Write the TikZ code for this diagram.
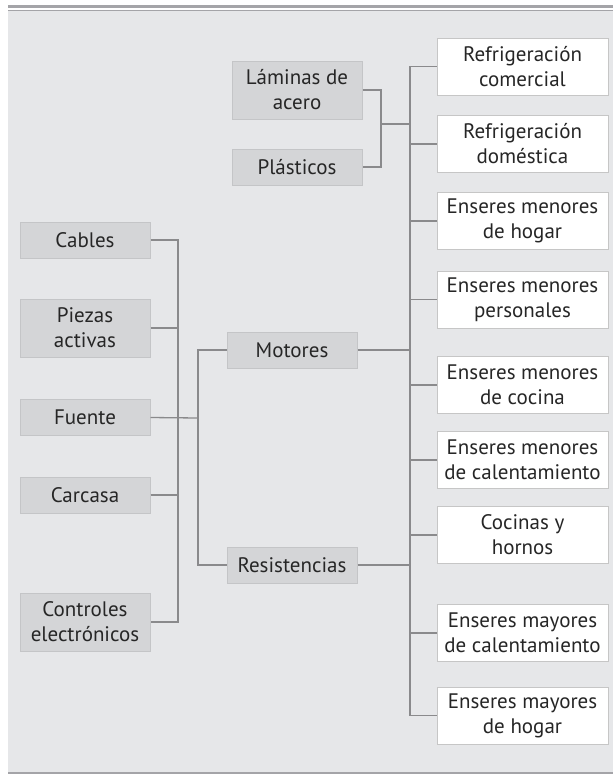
\documentclass[tikz,border=0pt]{standalone}
\usepackage{fontspec}
\setmainfont{PT Sans}
\definecolor{panel}{HTML}{E6E7E9}
\definecolor{boxgray}{HTML}{D4D5D7}
\definecolor{boxedge}{HTML}{C4C5C7}
\definecolor{wedge}{HTML}{C6C6C6}
\definecolor{linkgray}{HTML}{8A8A8C}
\definecolor{inkgray}{HTML}{262626}
\definecolor{rulegray}{HTML}{A4A4A8}
\tikzset{every picture/.style={line width=0.75pt}}
\tikzset{
  gbox/.style={draw=boxedge, fill=boxgray, line width=1pt, minimum width=130pt, minimum height=36pt, inner sep=0pt, align=center, text=inkgray, font=\fontsize{21}{25}\selectfont},
  tall/.style={minimum height=58pt},
  wbox/.style={draw=wedge, fill=white, line width=1pt, minimum width=171pt, minimum height=57pt, inner sep=0pt, align=center, text=inkgray, font=\fontsize{21}{25}\selectfont},
  link/.style={draw=linkgray, line width=1.3pt}
}

\begin{document}
\begin{tikzpicture}[x=1pt,y=1pt,yscale=-1,xscale=1]
\useasboundingbox (0,0) rectangle (613,774);

%Panel and rules
\fill [panel] (8,10) rectangle (613,773);
\draw [rulegray, line width=3pt] (8,6) -- (613,6);
\draw [rulegray, line width=1.3pt] (8,10.5) -- (613,10.5);
\draw [rulegray, line width=1.3pt] (8,773) -- (613,773);

% Left boxes
\node [gbox] (cab) at (85,240) {Cables};
\node [gbox,tall] (pie) at (85,328) {Piezas\\activas};
\node [gbox] (fue) at (85,417.5) {Fuente};
\node [gbox] (car) at (85,495) {Carcasa};
\node [gbox,tall] (ctl) at (85,622) {Controles\\electrónicos};

% Middle boxes
\node [gbox] (mot) at (292,350) {Motores};
\node [gbox] (res) at (292,565) {Resistencias};

% Top boxes
\node [gbox,tall] (lam) at (297,90) {Láminas de\\acero};
\node [gbox] (pla) at (297,167) {Plásticos};

% Right boxes
\node [wbox] (rc) at (522.5,66.5) {Refrigeración\\comercial};
\node [wbox] (rd) at (522.5,144) {Refrigeración\\doméstica};
\node [wbox] (emh) at (522.5,221) {Enseres menores\\de hogar};
\node [wbox] (emp) at (522.5,299.5) {Enseres menores\\personales};
\node [wbox] (emc) at (522.5,385) {Enseres menores\\de cocina};
\node [wbox] (emk) at (522.5,460) {Enseres menores\\de calentamiento};
\node [wbox] (coh) at (522.5,535) {Cocinas y\\hornos};
\node [wbox] (Mk) at (522.5,633) {Enseres mayores\\de calentamiento};
\node [wbox] (Mh) at (522.5,715.5) {Enseres mayores\\de hogar};

% Bus coordinates
\coordinate (lb) at (178,240);
\coordinate (mb) at (198,418);
\coordinate (jl) at (381,124);
\coordinate (rb) at (410,0);

%Straight Lines
\draw [link] (cab.east) -- (cab.east -| lb) -- (ctl.east -| lb) -- (ctl.east);
\draw [link] (pie.east) -- (pie.east -| lb);
\draw [link] (car.east) -- (car.east -| lb);
\draw [link] (fue.east) -- (mb);
\draw [link] (mot.west) -| (mb) |- (res.west);
\draw [link] (lam.east) -| (jl) |- (pla.east);
\draw [link] (jl) -- (jl -| rb);
\draw [link] (mot.east) -- (mot.east -| rb);
\draw [link] (res.east) -- (res.east -| rb);
\draw [link] (rc.west) -- (rc.west -| rb) -- (Mh.west -| rb) -- (Mh.west);
\draw [link] (rd.west) -- (rd.west -| rb);
\draw [link] (emh.west) -- (emh.west -| rb);
\draw [link] (emp.west) -- (emp.west -| rb);
\draw [link] (emc.west) -- (emc.west -| rb);
\draw [link] (emk.west) -- (emk.west -| rb);
\draw [link] (coh.west) -- (coh.west -| rb);
\draw [link] (Mk.west) -- (Mk.west -| rb);

\end{tikzpicture}
\end{document}
